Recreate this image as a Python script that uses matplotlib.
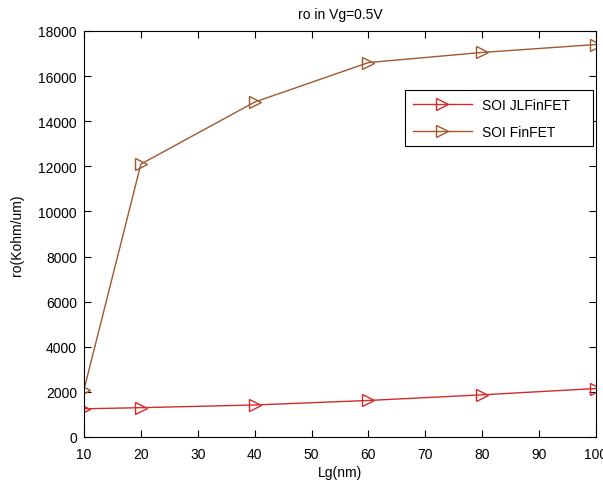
import matplotlib
matplotlib.use("Agg")
import matplotlib.pyplot as plt

# Daten
lg_nm = [10, 20, 40, 60, 80, 100]
ro_jlfinfet = [1250, 1300, 1420, 1620, 1870, 2150]
ro_finfet = [2100, 12100, 14850, 16600, 17050, 17400]

plt.rcParams['font.family'] = ['Liberation Sans', 'DejaVu Sans']
plt.rcParams['font.size'] = 10

fig = plt.figure(figsize=(6.03, 4.81), dpi=100)
ax = fig.add_axes([84 / 603, 43 / 481, 512 / 603, 406 / 481])

ax.plot(lg_nm, ro_jlfinfet, color='#d42a2a', marker='>', markersize=8,
        markerfacecolor='none', markeredgewidth=1.0, linewidth=1.0, label='SOI JLFinFET    ')
ax.plot(lg_nm, ro_finfet, color='#a0582d', marker='>', markersize=8,
        markerfacecolor='none', markeredgewidth=1.0, linewidth=1.0, label='SOI FinFET')

ax.set_xlim(10, 100)
ax.set_ylim(0, 18000)
ax.set_xticks(range(10, 101, 10))
ax.set_yticks(range(0, 18001, 2000))
ax.tick_params(direction='in', top=True, right=True, length=5, width=0.8)
ax.tick_params(axis='x', pad=7)
ax.tick_params(axis='y', pad=5)
for sp in ax.spines.values():
    sp.set_linewidth(0.8)

ax.set_xlabel('Lg(nm)', labelpad=3)
ax.set_ylabel('ro(Kohm/um)', labelpad=10)
ax.set_title('ro in Vg=0.5V', fontsize=10, pad=9)

leg = ax.legend(loc='upper right', bbox_to_anchor=(0.994, 0.855), borderaxespad=0,
                fancybox=False, edgecolor='black', framealpha=1, handlelength=4.3,
                handletextpad=0.7, labelspacing=0.95, borderpad=0.55)
leg.get_frame().set_linewidth(0.8)

fig.savefig('out.png', dpi=100)
